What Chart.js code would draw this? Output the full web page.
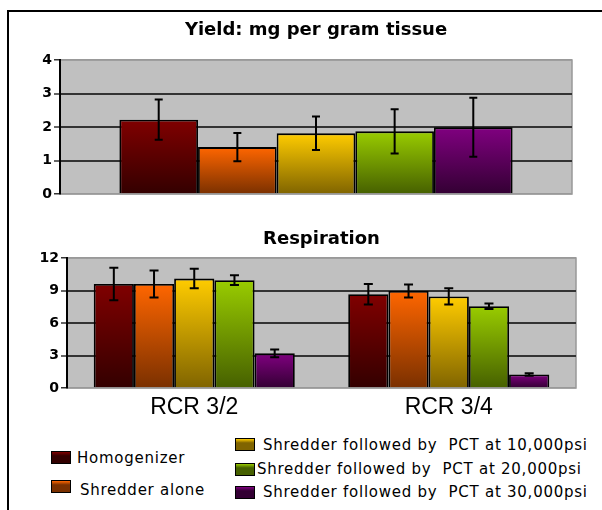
<!DOCTYPE html>
<html>
<head>
<meta charset="utf-8">
<script src="https://cdn.jsdelivr.net/npm/chart.js@4.4.1/dist/chart.umd.min.js"></script>
<style>
  body { margin: 0; background: #fff; width: 602px; height: 510px; overflow: hidden; position: relative; }
  .frame { position: absolute; left: 7px; top: 10px; width: 700px; height: 600px; border-left: 2px solid #000; border-top: 2px solid #000; }
  .wrap { position: absolute; left: 0; }
  .legend-item { position: absolute; font-family: "DejaVu Sans", sans-serif; font-size: 15px; letter-spacing: 0.75px; color: #000; line-height: 18px; white-space: pre; }
  .swatch { position: absolute; width: 20px; height: 13px; border: 1px solid #000; box-sizing: border-box; }
</style>
</head>
<body>
<div class="frame"></div>
<div class="wrap" style="top:0"><canvas id="yieldChart" width="602" height="215"></canvas></div>
<div class="wrap" style="top:215px"><canvas id="respChart" width="602" height="215"></canvas></div>
<div id="legend"></div>
<script>
const seriesNames = [
	"Homogenizer",
	"Shredder alone",
	"Shredder followed by  PCT at 10,000psi",
	"Shredder followed by  PCT at 20,000psi",
	"Shredder followed by  PCT at 30,000psi",
];

// yield, mg per gram tissue (one bar per method)
const yieldMean = [2.22, 1.40, 1.81, 1.87, 1.99];
const yieldErr = [0.60, 0.42, 0.50, 0.66, 0.88];

// respiration
const respCategories = ["RCR 3/2", "RCR 3/4"];
const respMean32 = [9.6, 9.6, 10.1, 9.95, 3.2];
const respErr32 = [1.5, 1.25, 0.9, 0.45, 0.35];
const respMean34 = [8.65, 8.95, 8.45, 7.55, 1.25];
const respErr34 = [0.95, 0.6, 0.75, 0.25, 0.12];

const yieldTicks = { min: 0, max: 4, step: 1 };
const respTicks = { min: 0, max: 12, step: 3 };

const topColors = ["#800000", "#ff6600", "#ffcc00", "#99cc00", "#800080"];
const bottomColors = ["#330000", "#7a3000", "#806400", "#466000", "#330033"];

function barFill(i) {
	return (c) => {
		const chart = c.chart;
		if (!chart.chartArea || c.raw === undefined) return topColors[i];
		const y = chart.scales.y;
		const g = chart.ctx.createLinearGradient(0, y.getPixelForValue(c.raw), 0, y.getPixelForValue(0));
		g.addColorStop(0, topColors[i]);
		g.addColorStop(1, bottomColors[i]);
		return g;
	};
}

const plotBack = {
	id: "plotBack",
	beforeDraw(chart) {
		const { ctx, chartArea: a } = chart;
		ctx.save();
		ctx.fillStyle = "#c0c0c0";
		ctx.fillRect(a.left, a.top, a.width, a.height);
		ctx.strokeStyle = "#999";
		ctx.lineWidth = 1.5;
		ctx.strokeRect(a.left, a.top, a.width, a.height);
		ctx.restore();
	},
};

const errorBars = {
	id: "errorBars",
	afterDatasetsDraw(chart, args, opts) {
		const ctx = chart.ctx;
		const y = chart.scales.y;
		chart.data.datasets.forEach((ds, i) => {
			chart.getDatasetMeta(i).data.forEach((bar, j) => {
				const hi = y.getPixelForValue(ds.data[j] + ds.errors[j]);
				const lo = y.getPixelForValue(ds.data[j] - ds.errors[j]);
				ctx.save();
				ctx.strokeStyle = "#000";
				ctx.lineWidth = 2;
				ctx.beginPath();
				ctx.moveTo(bar.x, hi);
				ctx.lineTo(bar.x, lo);
				ctx.moveTo(bar.x - opts.cap, hi);
				ctx.lineTo(bar.x + opts.cap, hi);
				ctx.moveTo(bar.x - opts.cap, lo);
				ctx.lineTo(bar.x + opts.cap, lo);
				ctx.stroke();
				ctx.restore();
			});
		});
	},
};

function yAxis(t, width) {
	return {
		min: t.min,
		max: t.max,
		ticks: {
			stepSize: t.step,
			color: "#000",
			padding: 2,
			font: { family: "DejaVu Sans", size: 14, weight: "bold" },
		},
		grid: {
			color: (c) => (c.tick.value === t.min || c.tick.value === t.max ? "#999" : "#333"),
			lineWidth: (c) => (c.tick.value === t.min || c.tick.value === t.max ? 1.5 : 2),
			drawTicks: true,
			tickLength: 6,
			tickColor: "#333",
			tickWidth: 1.5,
		},
		border: { display: true, color: "#000", width: 2 },
		afterFit: (scale) => {
			scale.width = width;
		},
	};
}

function titleOpts(text, top, bottom) {
	return {
		display: true,
		text: text,
		fullSize: false,
		color: "#000",
		font: { family: "DejaVu Sans", size: 18, weight: "bold" },
		padding: { top: top, bottom: bottom },
	};
}

const yieldChart = new Chart(document.getElementById("yieldChart"), {
	type: "bar",
	plugins: [plotBack, errorBars],
	options: {
		responsive: false,
		animation: false,
		layout: { padding: { left: 0, right: 30, top: 0, bottom: 21 } },
		plugins: {
			legend: { display: false },
			tooltip: { enabled: false },
			title: titleOpts("Yield: mg per gram tissue", 20, 18.4),
			errorBars: { cap: 4 },
		},
		scales: {
			x: { display: false },
			y: yAxis(yieldTicks, 60),
		},
	},
	data: {
		labels: [""],
		datasets: seriesNames.map((name, i) => ({
			label: name,
			data: [yieldMean[i]],
			errors: [yieldErr[i]],
			backgroundColor: barFill(i),
			borderColor: "#000",
			borderWidth: 1.8,
			categoryPercentage: 0.768,
			barPercentage: 1,
		})),
	},
});

const respChart = new Chart(document.getElementById("respChart"), {
	type: "bar",
	plugins: [plotBack, errorBars],
	options: {
		responsive: false,
		animation: false,
		layout: { padding: { left: 0, right: 26, top: 0, bottom: 0 } },
		plugins: {
			legend: { display: false },
			tooltip: { enabled: false },
			title: titleOpts("Respiration", 13.5, 7.9),
			errorBars: { cap: 4.5 },
		},
		scales: {
			x: {
				grid: { display: false, drawTicks: false },
				border: { display: false },
				ticks: {
					color: "#000",
					padding: 6,
					font: { family: "Liberation Sans", size: 23 },
				},
				afterFit: (scale) => {
					scale.height = 42;
				},
			},
			y: yAxis(respTicks, 67),
		},
	},
	data: {
		labels: respCategories,
		datasets: seriesNames.map((name, i) => ({
			label: name,
			data: [respMean32[i], respMean34[i]],
			errors: [respErr32[i], respErr34[i]],
			backgroundColor: barFill(i),
			borderColor: "#000",
			borderWidth: 1.8,
			categoryPercentage: 0.79,
			barPercentage: 1,
		})),
	},
});

// legend, built from the series names and colours
const legendSpots = [
	{ sx: 51, sy: 451, tx: 77, ty: 458 },
	{ sx: 51, sy: 480, tx: 80, ty: 490 },
	{ sx: 235, sy: 438, tx: 263, ty: 445 },
	{ sx: 235, sy: 463, tx: 257, ty: 469 },
	{ sx: 235, sy: 486, tx: 263, ty: 492 },
];
const legendBox = document.getElementById("legend");
seriesNames.forEach((name, i) => {
	const p = legendSpots[i];
	const sw = document.createElement("div");
	sw.className = "swatch";
	sw.style.left = p.sx + "px";
	sw.style.top = p.sy + "px";
	sw.style.background = `linear-gradient(${topColors[i]} 0%, ${bottomColors[i]} 35%, ${bottomColors[i]} 100%)`;
	legendBox.appendChild(sw);
	const tx = document.createElement("div");
	tx.className = "legend-item";
	tx.style.left = p.tx + "px";
	tx.style.top = p.ty - 9 + "px";
	tx.textContent = name;
	legendBox.appendChild(tx);
});
</script>
</body>
</html>
